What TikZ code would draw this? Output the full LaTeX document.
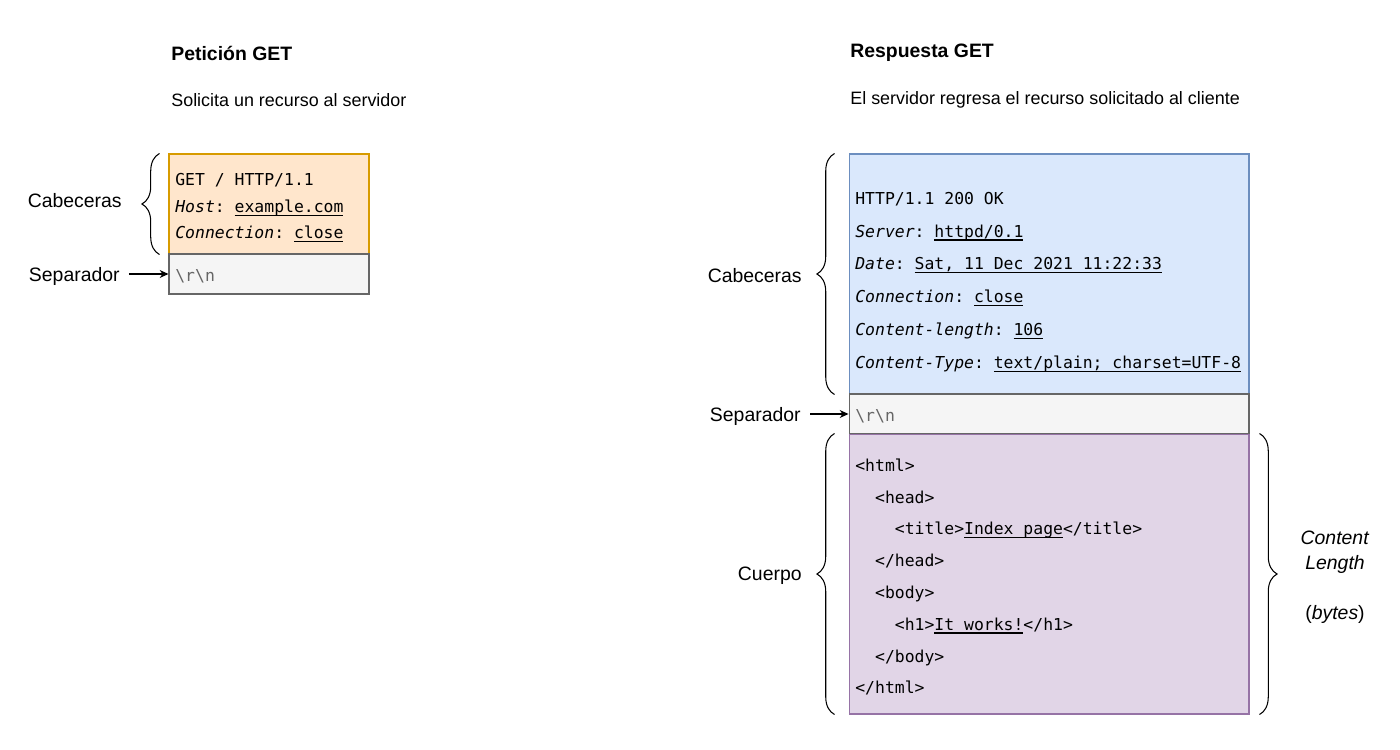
\documentclass[tikz,border=0pt]{standalone}
\usepackage{fontspec}
\setmainfont{Liberation Sans}
\newfontfamily\codefont{DejaVu Sans Mono}
\usetikzlibrary{arrows.meta,decorations.pathreplacing,positioning}

\definecolor{orangefill}{HTML}{FFE6CC}
\definecolor{orangeline}{HTML}{D79B00}
\definecolor{grayfill}{HTML}{F5F5F5}
\definecolor{grayline}{HTML}{666666}
\definecolor{bluefill}{HTML}{DAE8FC}
\definecolor{blueline}{HTML}{6C8EBF}
\definecolor{purplefill}{HTML}{E1D5E7}
\definecolor{purpleline}{HTML}{9673A6}

% underlined value, rule at a fixed depth
\newcommand\lnk[1]{\setbox0\hbox{#1}\rlap{\rule[-2pt]{\wd0}{0.75pt}}\box0}
\newcommand\ind{\hspace*{1.204em}}

\tikzset{
  box/.style={draw, line width=0.6pt, inner sep=0pt},
  lbl/.style={inner sep=0pt, font=\fontsize{11.05}{13.5}\selectfont},
  title/.style={lbl, anchor=west, font=\fontsize{11.05}{13.5}\selectfont\bfseries},
  desc/.style={inner sep=0pt, anchor=west, font=\fontsize{10.2}{12.5}\selectfont},
  code/.style={inner sep=0pt, anchor=west, align=left},
  brc/.style={decorate, line width=0.6pt, decoration={brace, amplitude=10pt}},
  arr/.style={-{Stealth[length=5pt, width=4.5pt]}, line width=0.6pt, shorten <=0.18cm}
}

\begin{document}
\begin{tikzpicture}[x=0.02cm, y=-0.02cm]
  \useasboundingbox (0,0) rectangle (1400,750);

  % peticion
  \node[title] (reqtitle) at (171,53) {Petición GET};
  \node[desc] (reqdesc) at (171,100) {Solicita un recurso al servidor};

  \node[box, fill=orangefill, draw=orangeline, minimum width=4cm, minimum height=2cm] (reqhead) at (269,204) {};
  \node[box, fill=grayfill, draw=grayline, minimum width=4cm, minimum height=0.8cm] (reqsep) at (269,274) {};

  \node[code, font=\codefont\frenchspacing\fontsize{9.35}{15}\selectfont] (reqtxt) at (175,208)
    {GET / HTTP/1.1\\\textit{Host}: \lnk{example.com}\\\textit{Connection}: \lnk{close}};
  \node[code, font=\codefont\fontsize{9.35}{15}\selectfont, text=grayline] (reqcrlf) at (175,276) {\textbackslash r\textbackslash n};

  \draw[brc] ([xshift=-0.18cm]reqhead.south west) -- ([xshift=-0.18cm]reqhead.north west);
  \node[lbl, anchor=east] (reqcab) at (122,201) {Cabeceras};
  \node[lbl, anchor=east] (reqseplbl) at (120,276) {Separador};
  \draw[arr] (reqseplbl.east |- reqsep.west) -- (reqsep.west);

  % respuesta
  \node[title] (restitle) at (850,53) {Respuesta GET};
  \node[desc] (resdesc) at (850,100) {El servidor regresa el recurso solicitado al cliente};

  \node[box, fill=bluefill, draw=blueline, minimum width=8cm, minimum height=4.8cm] (reshead) at (1049,274) {};
  \node[box, fill=grayfill, draw=grayline, minimum width=8cm, minimum height=0.8cm] (ressep) at (1049,414) {};
  \node[box, fill=purplefill, draw=purpleline, minimum width=8cm, minimum height=5.6cm] (resbody) at (1049,574) {};

  \node[code, font=\codefont\frenchspacing\fontsize{9.35}{18.7}\selectfont] (reshdtxt) at (855,282)
    {HTTP/1.1 200 OK\\
     \textit{Server}: \lnk{httpd/0.1}\\
     \textit{Date}: \lnk{Sat, 11 Dec 2021 11:22:33}\\
     \textit{Connection}: \lnk{close}\\
     \textit{Content-length}: \lnk{106}\\
     \textit{Content-Type}: \lnk{text/plain; charset=UTF-8}};
  \node[code, font=\codefont\fontsize{9.35}{15}\selectfont, text=grayline] (rescrlf) at (855,416) {\textbackslash r\textbackslash n};
  \node[code, font=\codefont\frenchspacing\fontsize{9.35}{18.1}\selectfont] (resbdtxt) at (855,577)
    {<html>\\
     \ind<head>\\
     \ind\ind<title>\lnk{Index page}</title>\\
     \ind</head>\\
     \ind<body>\\
     \ind\ind<h1>\lnk{It works!}</h1>\\
     \ind</body>\\
     </html>};

  \draw[brc] ([xshift=-0.28cm]reshead.south west) -- ([xshift=-0.28cm]reshead.north west);
  \draw[brc] ([xshift=-0.28cm]resbody.south west) -- ([xshift=-0.28cm]resbody.north west);
  \draw[brc] ([xshift=0.2cm]resbody.north east) -- ([xshift=0.2cm]resbody.south east);

  \node[lbl, anchor=east] (rescab) at (802,276) {Cabeceras};
  \node[lbl, anchor=east] (resseplbl) at (801,416) {Separador};
  \node[lbl, anchor=east] (rescue) at (802,576) {Cuerpo};
  \draw[arr] (resseplbl.east |- ressep.west) -- (ressep.west);

  \node[lbl, align=center, font=\fontsize{11.05}{14.2}\selectfont] (reslen) at (1335,577)
    {\textit{Content}\\\textit{Length}\\[14.2pt](\textit{bytes})};
\end{tikzpicture}
\end{document}
